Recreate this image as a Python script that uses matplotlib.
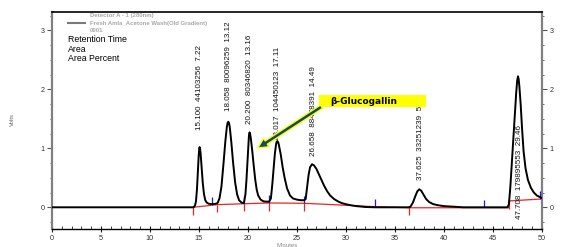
import matplotlib
matplotlib.use('Agg')
import matplotlib.pyplot as plt
from matplotlib.ticker import MultipleLocator
from matplotlib.patches import Rectangle

# ---------------- data ----------------
trace_time = [0.0, 14.45, 14.60, 14.70, 14.80, 14.90, 14.98, 15.03, 15.07, 15.12, 15.17, 15.28, 15.40,
              15.52, 15.65, 15.80, 16.00, 16.30, 16.60, 16.90, 17.10, 17.30, 17.50, 17.70, 17.85,
              17.93, 18.00, 18.07, 18.15, 18.30, 18.50, 18.70, 18.90, 19.10, 19.35, 19.55, 19.60,
              19.75, 19.85, 19.95, 20.05, 20.11, 20.17, 20.23, 20.30, 20.45, 20.60, 20.75, 20.90,
              21.05, 21.30, 21.60, 22.00, 22.17, 22.35, 22.50, 22.60, 22.75, 22.88, 22.94, 23.00,
              23.07, 23.15, 23.35, 23.55, 23.75, 24.00, 24.30, 24.60, 25.00, 25.40, 25.75, 25.90,
              26.05, 26.20, 26.35, 26.55, 26.75, 27.00, 27.25, 27.50, 27.80, 28.10, 28.40, 28.80,
              29.20, 29.60, 30.06, 30.50, 31.08, 32.00, 33.00, 36.40, 36.60, 36.85, 37.10, 37.30,
              37.50, 37.70, 37.95, 38.20, 38.50, 38.90, 39.40, 40.00, 41.00, 42.00, 46.50, 46.65,
              46.80, 46.95, 47.10, 47.25, 47.40, 47.50, 47.58, 47.65, 47.72, 47.85, 48.00, 48.15,
              48.35, 48.60, 48.90, 49.20, 49.50, 49.85, 50.00]
trace_volts = [0.0, 0.0, 0.03, 0.10, 0.30, 0.62, 0.88, 0.99, 1.02, 0.99, 0.92, 0.66, 0.40,
               0.22, 0.12, 0.08, 0.06, 0.055, 0.055, 0.07, 0.15, 0.35, 0.72, 1.12, 1.36,
               1.43, 1.45, 1.43, 1.36, 1.12, 0.74, 0.42, 0.22, 0.12, 0.08, 0.07, 0.08,
               0.22, 0.45, 0.75, 1.05, 1.22, 1.27, 1.24, 1.17, 0.95, 0.70, 0.47, 0.30,
               0.20, 0.13, 0.10, 0.095, 0.095, 0.15, 0.40, 0.60, 0.90, 1.07, 1.11, 1.12,
               1.11, 1.07, 0.90, 0.68, 0.50, 0.32, 0.20, 0.15, 0.13, 0.12, 0.12, 0.14,
               0.35, 0.55, 0.68, 0.73, 0.71, 0.65, 0.56, 0.47, 0.36, 0.27, 0.20, 0.14,
               0.10, 0.07, 0.05, 0.035, 0.02, 0.005, 0.0, 0.0, 0.01, 0.08, 0.19, 0.27,
               0.305, 0.28, 0.21, 0.14, 0.09, 0.055, 0.035, 0.02, 0.01, 0.0, 0.0, 0.05,
               0.35, 0.75, 1.15, 1.55, 1.95, 2.15, 2.22, 2.17, 2.05, 1.75, 1.32, 0.95,
               0.66, 0.46, 0.33, 0.25, 0.20, 0.17, 0.16]

peak_rt = [15.100, 18.058, 20.200, 23.017, 26.658, 37.625, 47.708]
peak_area = [44103256, 80096259, 80346820, 104450123, 88478391, 33251239, 179895553]
peak_pct = [7.22, 13.12, 13.16, 17.11, 14.49, 5.44, 29.46]

baseline1_time = [14.42, 16.87, 19.56, 22.18, 25.75, 33.0, 36.4, 46.63]
baseline1_volts = [0.0, 0.045, 0.06, 0.073, 0.068, 0.01, -0.008, -0.008]
baseline2_time = [46.63, 49.9]
baseline2_volts = [0.107, 0.14]

start_times = [14.42, 16.87, 19.56, 22.18, 25.75, 36.4, 46.63]
start_levels = [0.0, 0.045, 0.06, 0.073, 0.068, 0.0, 0.107]
end_times = [16.33, 19.56, 22.18, 25.75, 33.0, 44.1, 49.86]
end_levels = [0.04, 0.06, 0.073, 0.068, 0.01, 0.0, 0.14]

compound_name = "β-Glucogallin"
header_lines = ["Detector A - 1 (280nm)", "Fresh Amla_Acetone Wash(Old Gradient)", "0001"]
legend_lines = ["Retention Time", "Area", "Area Percent"]

# ---------------- layout ----------------
W, H = 575, 247
fig = plt.figure(figsize=(W / 100, H / 100), dpi=100)
ax = fig.add_axes([52 / W, 1 - 229 / H, (541.7 - 52) / W, (229 - 11.7) / H])
ax.set_xlim(0, 50)
ax.set_ylim(-0.368, 3.315)

FONT = ['Liberation Sans', 'DejaVu Sans']

# trace
ax.plot(trace_time, trace_volts, color='black', lw=1.4, zorder=4, solid_joinstyle='round')
# baselines
ax.plot(baseline1_time, baseline1_volts, color='#ee2222', lw=0.9, zorder=3)
ax.plot(baseline2_time, baseline2_volts, color='#ee2222', lw=0.9, zorder=3)
ax.vlines(start_times, [v - 0.13 for v in start_levels], start_levels, color='#ee2222', lw=0.9, zorder=3)
ax.vlines(end_times, end_levels, [v + 0.13 for v in end_levels], color='#1a1aff', lw=0.9, zorder=3)

# peak labels
label_bottom = [1.31, 1.64, 1.42, 1.14, 0.87, 0.46, -0.20]
for rt, area, pct, yb in zip(peak_rt, peak_area, peak_pct, label_bottom):
    ax.text(rt, yb, f"{rt:.3f}  {area}  {pct:.2f}", rotation=90, ha='center', va='bottom',
            fontsize=5.8, family=FONT, color='#111111', zorder=5)

# annotation box + arrow
ax.add_patch(Rectangle((27.24, 1.70), 10.92, 0.20, facecolor='#ffff00', edgecolor='none', zorder=6))
ax.text(28.37, 1.80, compound_name, ha='left', va='center', fontsize=6.5, fontweight='bold',
        family=['DejaVu Sans'], color='black', zorder=7)
ax.annotate('', xy=(21.02, 1.005), xytext=(27.52, 1.705),
            arrowprops=dict(arrowstyle='simple,head_length=0.9,head_width=0.9,tail_width=0.35',
                            fc='#0d4a6e', ec='#ffff00', lw=1.0, mutation_scale=8,
                            shrinkA=0, shrinkB=0), zorder=7)

# header / legend text
fig.lines.append(plt.Line2D([68 / W, 85 / W], [1 - 23.3 / H, 1 - 23.3 / H], color='#7a7a7a', lw=1.5,
                            transform=fig.transFigure))
for txt, y in zip(header_lines, [15.7, 23.0, 30.0]):
    fig.text(90 / W, 1 - y / H, txt, ha='left', va='center', fontsize=4.3, fontweight='bold',
             color='#a8a8a8', family=FONT)
for txt, y in zip(legend_lines, [39.5, 49.0, 58.3]):
    fig.text(68 / W, 1 - y / H, txt, ha='left', va='center', fontsize=6.3, color='black', family=FONT)

fig.text(12 / W, 1 - 120 / H, "Volts", rotation=90, ha='center', va='center', fontsize=4.3,
         color='#666666', family=FONT)
fig.text(287 / W, 1 - 243 / H, "Minutes", ha='center', va='top', fontsize=4.3,
         color='#888888', family=FONT)

# axes styling
ax.xaxis.set_major_locator(MultipleLocator(5))
ax.xaxis.set_minor_locator(MultipleLocator(1))
ax.yaxis.set_major_locator(MultipleLocator(1))
ax.yaxis.set_minor_locator(MultipleLocator(0.25))
ax.tick_params(axis='x', which='major', direction='inout', length=5, width=0.8, labelsize=5.2,
               pad=1.5, colors='#222222', labelcolor='#333333')
ax.tick_params(axis='x', which='minor', direction='in', length=2, width=0.6, colors='#222222')
ax.tick_params(axis='y', which='both', left=True, right=True, labelleft=True, labelright=True,
               direction='out', colors='#555555', labelcolor='#333333')
ax.tick_params(axis='y', which='major', length=3.5, width=0.8, labelsize=5.2, pad=2)
ax.tick_params(axis='y', which='minor', length=1.5, width=0.6)
for lab in ax.get_xticklabels() + ax.get_yticklabels():
    lab.set_family(FONT)

ax.spines['left'].set_color('#808080')
ax.spines['left'].set_linewidth(1.6)
ax.spines['right'].set_color('#808080')
ax.spines['right'].set_linewidth(1.6)
ax.spines['top'].set_color('black')
ax.spines['top'].set_linewidth(1.2)
ax.spines['bottom'].set_color('black')
ax.spines['bottom'].set_linewidth(1.0)

fig.savefig('out.png', dpi=100)
